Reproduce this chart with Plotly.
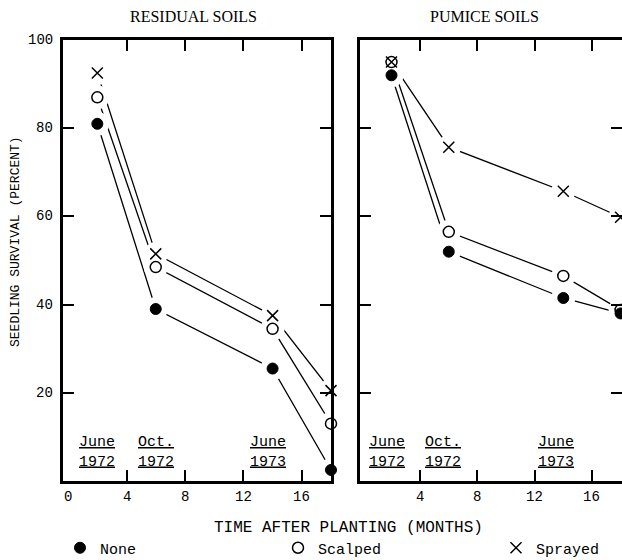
import plotly.graph_objects as go

# ---- data ----
months = [2, 6, 14, 18]
residual_none = [81, 39, 25.5, 2.5]
residual_scalped = [87, 48.5, 34.5, 13]
residual_sprayed = [92.5, 51.5, 37.5, 20.5]
pumice_none = [92, 52, 41.5, 38]
pumice_scalped = [95, 56.5, 46.5, 38.8]
pumice_sprayed = [95, 75.7, 65.7, 59.8]
series_names = ["None", "Scalped", "Sprayed"]
panel_titles = ["RESIDUAL SOILS", "PUMICE SOILS"]
date_labels = ["June<br>1972", "Oct.<br>1972", "June<br>1973"]
x_ticks_left = [0, 4, 8, 12, 16]
x_ticks_right = [4, 8, 12, 16]
y_ticks = [20, 40, 60, 80, 100]

W, H = 622, 560
MONO = "Liberation Mono"
SERIF = "Liberation Serif"

fig = go.Figure()

styles = {
    "None": dict(symbol="circle", size=11, color="black", line=dict(color="black", width=1)),
    "Scalped": dict(symbol="circle-open", size=11, color="black", line=dict(color="black", width=1.5)),
    "Sprayed": dict(symbol="x-thin", size=11, color="black", line=dict(color="black", width=1.5)),
}
legend_ids = {"None": "legend", "Scalped": "legend2", "Sprayed": "legend3"}

panels = [
    ("x", "y", [residual_none, residual_scalped, residual_sprayed]),
    ("x2", "y2", [pumice_none, pumice_scalped, pumice_sprayed]),
]

# lines
for xa, ya, vals in panels:
    for name, v in zip(series_names, vals):
        fig.add_trace(go.Scatter(x=months, y=v, mode="lines", xaxis=xa, yaxis=ya,
                                 line=dict(color="black", width=1.3), showlegend=False,
                                 hoverinfo="skip", cliponaxis=False))
# white halos for gaps between lines and markers
for xa, ya, vals in panels:
    for name, v in zip(series_names, vals):
        fig.add_trace(go.Scatter(x=months, y=v, mode="markers", xaxis=xa, yaxis=ya,
                                 marker=dict(symbol="circle", size=24, color="white"),
                                 showlegend=False, hoverinfo="skip", cliponaxis=False))
# markers
for i, (xa, ya, vals) in enumerate(panels):
    for name, v in zip(series_names, vals):
        fig.add_trace(go.Scatter(x=months, y=v, mode="markers", xaxis=xa, yaxis=ya,
                                 marker=styles[name], name=name, showlegend=(i == 0),
                                 legend=legend_ids[name], cliponaxis=False))

axis_common = dict(showline=True, linewidth=2.5, linecolor="black", mirror="ticks",
                   ticks="inside", ticklen=11, tickwidth=2, tickcolor="black",
                   showgrid=False, zeroline=False, showticklabels=False)

leg_font = dict(family=MONO, size=15, color="black")
leg_common = dict(orientation="h", xanchor="left", y=1 - 548 / H, yanchor="middle",
                  font=leg_font, bgcolor="rgba(0,0,0,0)", borderwidth=0)

fig.update_layout(
    width=W, height=H, margin=dict(l=0, r=0, t=0, b=0, autoexpand=False),
    paper_bgcolor="white", plot_bgcolor="white",
    xaxis=dict(domain=[63 / W, 331 / W], range=[-0.35, 18], tickvals=[4, 8, 12, 16],
               anchor="y", **axis_common),
    yaxis=dict(domain=[1 - 481 / H, 1 - 40 / H], range=[0, 100], tickvals=[20, 40, 60, 80],
               anchor="x", **axis_common),
    xaxis2=dict(domain=[360 / W, 1.0], range=[-0.2, 18.1], tickvals=[4, 8, 12, 16],
                anchor="y2", **axis_common),
    yaxis2=dict(domain=[1 - 481 / H, 1 - 40 / H], range=[0, 100], tickvals=[20, 40, 60, 80],
                anchor="x2", **axis_common),
    showlegend=True,
    legend=dict(x=60 / W, **leg_common),
    legend2=dict(x=278 / W, **leg_common),
    legend3=dict(x=496 / W, **leg_common),
)

ann = []
tick_font = dict(family=MONO, size=14, color="black")
for t in x_ticks_left:
    ann.append(dict(x=t, y=1 - 497 / H, xref="x", yref="paper", text=str(t), showarrow=False,
                    xanchor="center", yanchor="middle", font=tick_font))
for t in x_ticks_right:
    ann.append(dict(x=t, y=1 - 497 / H, xref="x2", yref="paper", text=str(t), showarrow=False,
                    xanchor="center", yanchor="middle", font=tick_font))
for t in y_ticks:
    ann.append(dict(x=55 / W, y=t, xref="paper", yref="y", text=str(t), showarrow=False,
                    xanchor="right", yanchor="middle", font=tick_font))
# panel titles
ann.append(dict(x=193 / W, y=1 - 16 / H, xref="paper", yref="paper", text=panel_titles[0],
                showarrow=False, xanchor="center", yanchor="middle",
                font=dict(family=SERIF, size=16, color="black")))
ann.append(dict(x=484 / W, y=1 - 16 / H, xref="paper", yref="paper", text=panel_titles[1],
                showarrow=False, xanchor="center", yanchor="middle",
                font=dict(family=SERIF, size=16, color="black")))
# axis titles
ann.append(dict(x=348 / W, y=1 - 528 / H, xref="paper", yref="paper",
                text="TIME AFTER PLANTING (MONTHS)", showarrow=False,
                xanchor="center", yanchor="middle",
                font=dict(family=MONO, size=16, color="black")))
ann.append(dict(x=15 / W, y=1 - 242 / H, xref="paper", yref="paper",
                text="SEEDLING SURVIVAL (PERCENT)", showarrow=False, textangle=-90,
                xanchor="center", yanchor="middle",
                font=dict(family=MONO, size=13, color="black")))
# date labels
for xa, xs in (("x", [2, 6, 13.7]), ("x2", [1.7, 5.6, 13.5])):
    for xv, lab in zip(xs, date_labels):
        top, bot = lab.split("<br>")
        ann.append(dict(x=xv, y=6.5, xref=xa, yref="y", text=f"<u>{top}</u><br><u>{bot}</u>",
                        showarrow=False, xanchor="center", yanchor="middle",
                        font=dict(family=MONO, size=15, color="black")))
fig.update_layout(annotations=ann)

fig.write_html("out.html", config={"displayModeBar": False},
               post_script="document.body.style.margin='0';document.body.style.padding='0';")
